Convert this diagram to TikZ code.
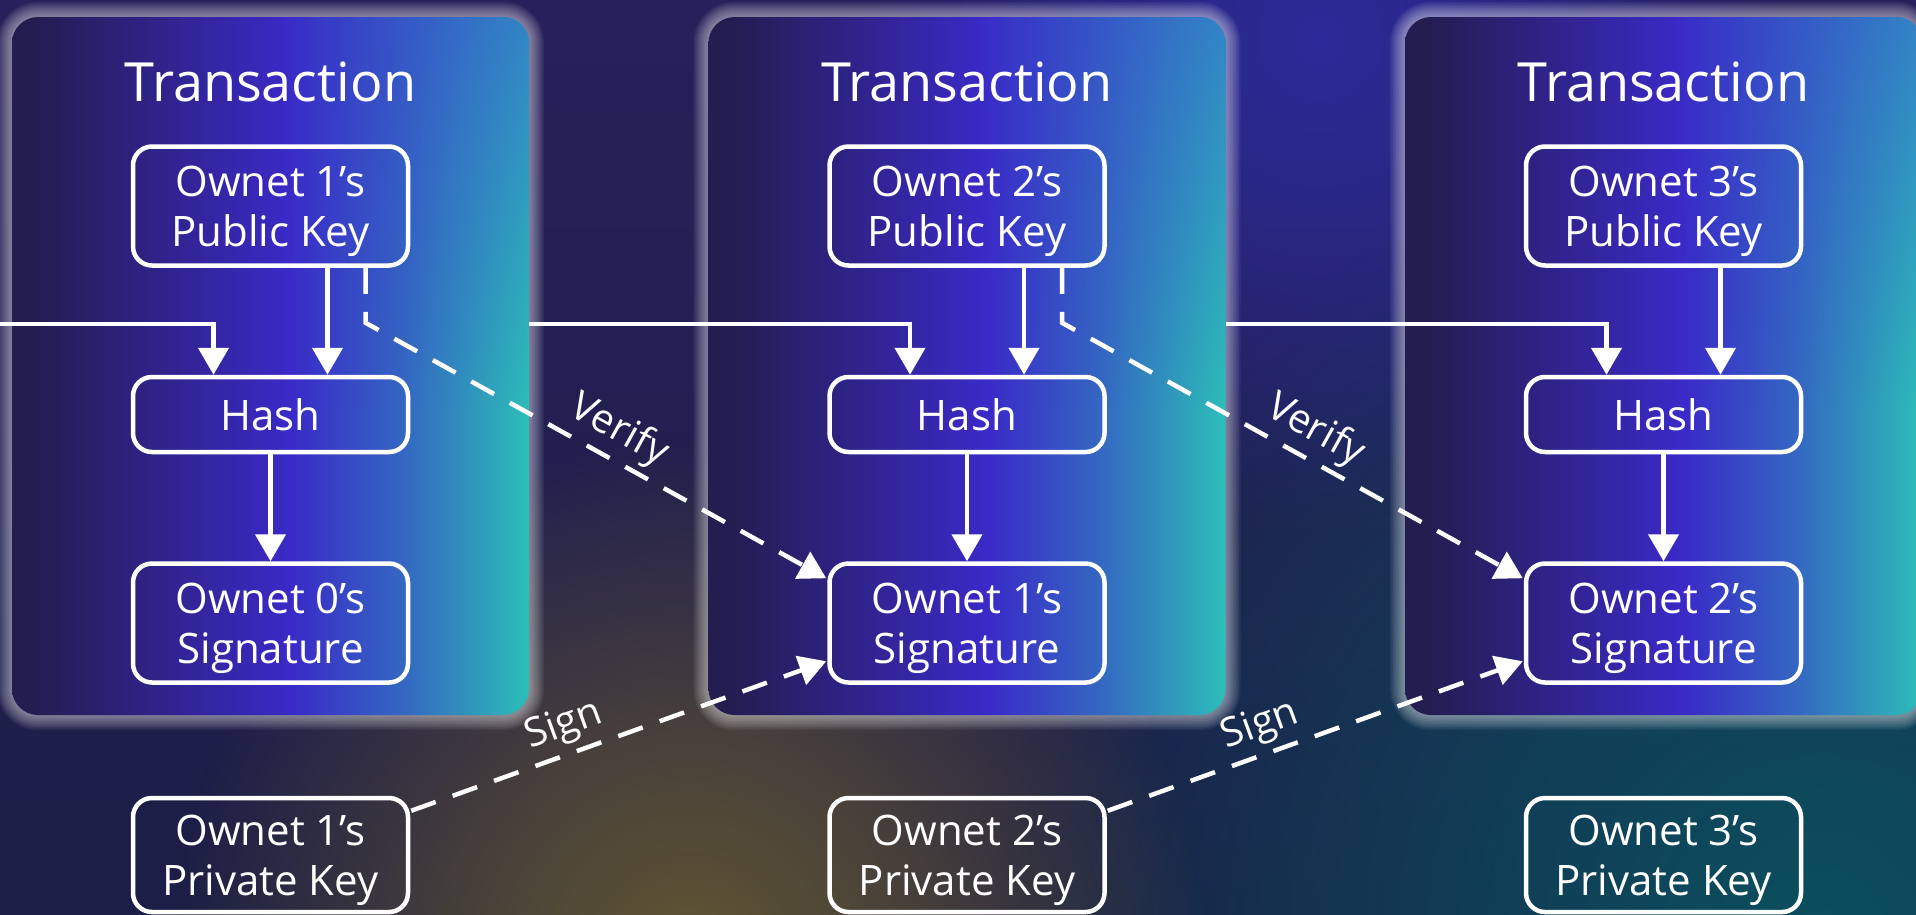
\documentclass[tikz,border=0pt]{standalone}
\usepackage{fontspec}
\setmainfont{Open Sans}
\usetikzlibrary{arrows.meta,calc,fadings}
\definecolor{bgtop}{HTML}{28205A}
\definecolor{bgbot}{HTML}{1B1E46}
\definecolor{glowblue}{HTML}{2C2CA0}
\definecolor{glowolive}{HTML}{6A5C30}
\definecolor{glowteal}{HTML}{0A5260}
\definecolor{panA}{HTML}{241D50}
\definecolor{panB}{HTML}{3A2AC8}
\definecolor{panC}{HTML}{3468C2}
\definecolor{panD}{HTML}{2CBEB8}
\definecolor{panTop}{HTML}{3385C6}
\pgfdeclareradialshading{softglowsh}{\pgfpointorigin}{color(0bp)=(white); color(10bp)=(white!65!black); color(25bp)=(black); color(50bp)=(black)}
\pgfdeclarefading{softglow}{\pgfuseshading{softglowsh}}
\pgfdeclareverticalshading{topfadesh}{100bp}{color(0bp)=(black); color(47bp)=(black); color(75bp)=(white); color(100bp)=(white)}
\pgfdeclarefading{topfade}{\pgfuseshading{topfadesh}}
\pgfdeclarehorizontalshading{panelshade}{100bp}{color(0bp)=(panA); color(27bp)=(panA); color(52bp)=(panB); color(63bp)=(panC); color(75bp)=(panD); color(100bp)=(panD)}
\newcommand{\upl}{\rule{0pt}{42pt}}
\begin{document}
\begin{tikzpicture}[x=1pt,y=-1pt,
  panel/.style={minimum width=517pt, minimum height=698pt, rounded corners=26pt, shading=panelshade, inner sep=0pt},
  gpanel/.style={minimum width=517pt, minimum height=698pt, inner sep=0pt},
  kbox/.style={draw=white, line width=4.5pt, rounded corners=19pt, minimum width=275pt, minimum height=119pt, inner sep=0pt, align=center, text=white, font=\fontsize{42}{50}\selectfont},
  hbox/.style={kbox, minimum height=75pt},
  pbox/.style={kbox, minimum height=114pt},
  ttl/.style={text=white, font=\fontsize{54}{60}\selectfont, inner sep=0pt},
  lbl/.style={text=white, font=\fontsize{40}{44}\selectfont, inner sep=0pt},
  arr/.style={draw=white, line width=4.5pt, -{Triangle[length=27pt,width=30pt]}},
  darr/.style={arr, dash pattern=on 26pt off 18pt},
]
\useasboundingbox (0,0) rectangle (1916,914);
\clip (0,0) rectangle (1916,914);
% background
\shade[top color=bgtop, bottom color=bgbot] (0,0) rectangle (1916,914);
\fill[glowteal, path fading=softglow, fill opacity=0.95] (1820,930) circle (820);
\fill[glowolive, path fading=softglow, fill opacity=0.9] (690,960) circle (520);
\fill[glowblue, path fading=softglow, fill opacity=0.9] (1320,40) circle (480);
% panel glows
\foreach \i in {1,2,3}{
  \pgfmathsetmacro{\px}{270.5+696.5*(\i-1)}
  \node[gpanel] (g\i) at (\px,366) {};
  \foreach \k in {1,...,10}{
    \draw[white, opacity=0.055, line width=\k*3pt, rounded corners=26pt] (g\i.north west) rectangle (g\i.south east);
  }
}
\foreach \i in {1,2,3}{
  \pgfmathsetmacro{\px}{270.5+696.5*(\i-1)}
  \node[panel] (t\i) at (\px,366) {};
  \begin{scope}
    \clip[rounded corners=26pt] (t\i.north west) rectangle (t\i.south east);
    \shade[left color=panB, right color=panTop, path fading=topfade] ($(t\i.north west)!0.52!(t\i.north east)$) rectangle (t\i.south east);
  \end{scope}
  \node[ttl] (h\i) at (\px,82) {Transaction};
  \node[kbox] (pk\i) at (\px,206) {\upl Ownet \i’s\\Public Key};
  \node[hbox] (hash\i) at (\px,414.5) {Hash};
  \pgfmathtruncatemacro{\prev}{\i-1}
  \node[kbox] (sig\i) at (\px,623) {\upl Ownet \prev’s\\Signature};
  \node[pbox] (pr\i) at (\px,855) {\upl Ownet \i’s\\Private Key};
  \draw[arr] ([xshift=57pt]pk\i.south) -- ([xshift=57pt]hash\i.north);
  \draw[arr] (hash\i) -- (sig\i);
}
\coordinate (in1) at (0,324);
\draw[arr] (in1) -| ([xshift=-57pt]hash1.north);
\draw[arr] (t1.east |- in1) -| ([xshift=-57pt]hash2.north);
\draw[arr] (t2.east |- in1) -| ([xshift=-57pt]hash3.north);
\foreach \i/\j in {1/2,2/3}{
  \draw[darr] ([xshift=95pt]pk\i.south) -- ++(0,55) -- ($(sig\j.north west)+(-1,17)$);
  \draw[darr] ($(pr\i.north east)+(1,15)$) -- ($(sig\j.north west)+(-1,100)$);
  \node[lbl, rotate=-29] (v\i) at ({619+696.5*(\i-1)},431) {Verify};
  \node[lbl, rotate=20] (s\i) at ({564+696.5*(\i-1)},726) {Sign};
}
\end{tikzpicture}
\end{document}
